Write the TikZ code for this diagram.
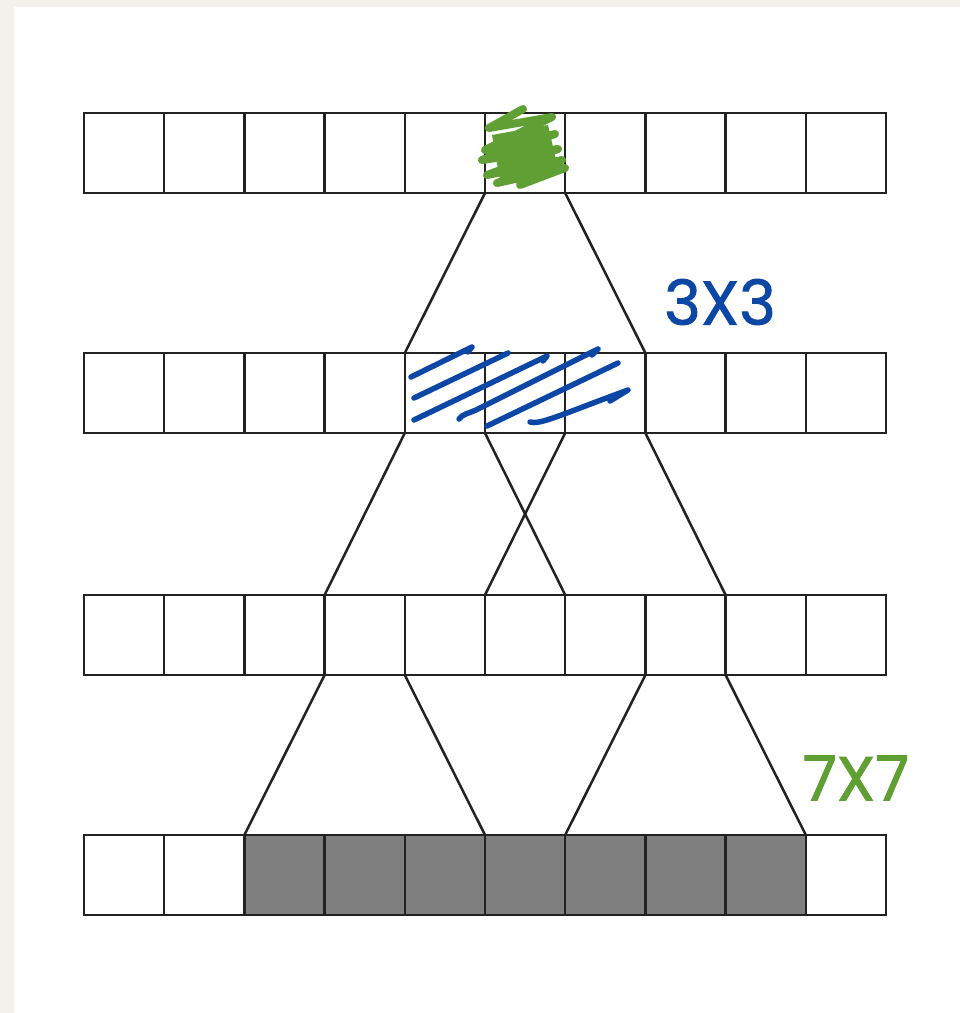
\documentclass[tikz,border=0pt]{standalone}
\usepackage{fontspec}
\newfontfamily\handfont[FakeBold=1.5]{Poppins}
\definecolor{paper}{HTML}{F2F1EC}
\definecolor{linec}{HTML}{222222}
\definecolor{cellgray}{HTML}{7F7F7F}
\definecolor{pengreen}{HTML}{5F9F33}
\definecolor{penblue}{HTML}{0C47A6}
\begin{document}
\begin{tikzpicture}[x=1pt,y=-1pt,
  cell/.style={draw=linec, line width=2.5pt, minimum width=80.2pt, minimum height=80pt,
    inner sep=0pt, outer sep=0pt, anchor=north west},
  shaded/.style={cell, fill=cellgray},
  link/.style={draw=linec, line width=2.5pt},
  greenpen/.style={draw=pengreen, line width=8pt, line cap=round, line join=round},
  bluepen/.style={draw=penblue, line width=5.5pt, line cap=round, line join=round},
  lbl/.style={font=\handfont\fontsize{62}{66}\selectfont, inner sep=0pt}]
\useasboundingbox (0,0) rectangle (960,1013);
\fill[paper] (0,0) rectangle (960,1013);
\fill[white] (14,7) rectangle (960,1013);
% rows of cells
\foreach \r/\y in {1/113,2/353,3/595,4/835}{
  \foreach \c in {1,...,10}{
    \node[cell, fill=white] (r\r c\c) at ({84+80.2*(\c-1)},\y) {};
  }
}
\foreach \c in {3,...,9}{
  \node[shaded] (g\c) at ({84+80.2*(\c-1)},835) {};
}
% connectors
\draw[link] (r1c6.south west) -- (r2c5.north west);
\draw[link] (r1c6.south east) -- (r2c7.north east);
\draw[link] (r2c5.south west) -- (r3c4.north west);
\draw[link] (r2c5.south east) -- (r3c7.north west);
\draw[link] (r2c7.south west) -- (r3c6.north west);
\draw[link] (r2c7.south east) -- (r3c9.north west);
\draw[link] (r3c4.south west) -- (g3.north west);
\draw[link] (r3c5.south west) -- (g6.north west);
\draw[link] (r3c8.south west) -- (g7.north west);
\draw[link] (r3c9.south west) -- (g9.north east);
% green scribble
\draw[greenpen] (523,109) -- (489,128) -- (552,117) -- (485,150) -- (555,134)
  -- (482,160) -- (558,149) -- (487,175) -- (562,160) -- (497,183) -- (565,168) -- (520,185);
\fill[pengreen] (492,135) -- (548,125) -- (556,160) -- (500,180) -- cycle;
% blue hatch
\draw[bluepen] (411,377) -- (472,347) -- (468,352);
\draw[bluepen] (414,398) -- (508,353);
\draw[bluepen] (414,420) -- (547,356) -- (543,361);
\draw[bluepen] (459,419) .. controls (462,414) and (470,413) .. (476,410) -- (598,349) -- (592,355);
\draw[bluepen] (487,426) -- (618,363);
\draw[bluepen] (530,422) .. controls (540,425) and (560,415) .. (628,390) -- (610,401);
% labels
\node[lbl, text=penblue] (k3) at (720,302) {3X3};
\node[lbl, text=pengreen] (k7) at (856,778) {7X7};
\end{tikzpicture}
\end{document}
